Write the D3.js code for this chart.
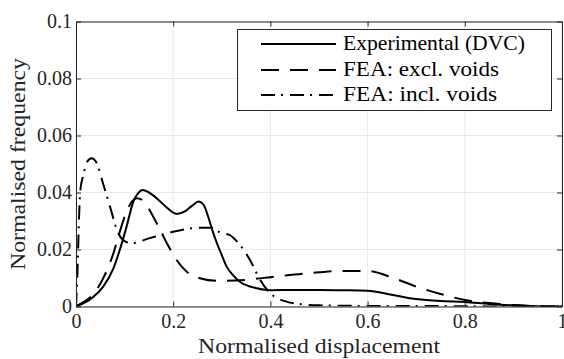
<!DOCTYPE html>
<html><head><meta charset="utf-8">
<script src="https://cdn.jsdelivr.net/npm/d3@7/dist/d3.min.js"></script>
<style>html,body{margin:0;padding:0;background:#fff;} svg text{font-family:"Liberation Serif","DejaVu Serif","Noto Serif",serif;}</style>
</head><body>
<svg id="c" width="564" height="359"></svg>
<script>
const xTicks = [0, 0.2, 0.4, 0.6, 0.8, 1];
const xTickLabels = ["0", "0.2", "0.4", "0.6", "0.8", "1"];
const yTicks = [0, 0.02, 0.04, 0.06, 0.08, 0.1];
const yTickLabels = ["0", "0.02", "0.04", "0.06", "0.08", "0.1"];
const seriesNames = ["Experimental (DVC)", "FEA: excl. voids", "FEA: incl. voids"];

const expX = [0, 0.01, 0.02, 0.036, 0.056, 0.077, 0.09, 0.104, 0.118, 0.128, 0.137, 0.15, 0.166, 0.185, 0.207, 0.225, 0.24, 0.252, 0.262, 0.272, 0.282, 0.29, 0.3, 0.31, 0.323, 0.337, 0.355, 0.372, 0.4, 0.45, 0.5, 0.55, 0.6, 0.65, 0.7, 0.75, 0.8, 0.85, 0.9, 0.95, 1];
const expY = [0, 0.0008, 0.0015, 0.0034, 0.007, 0.0134, 0.0198, 0.028, 0.0368, 0.0398, 0.0409, 0.040, 0.038, 0.035, 0.0325, 0.0335, 0.0355, 0.0368, 0.0358, 0.0315, 0.026, 0.0222, 0.018, 0.014, 0.011, 0.0087, 0.0072, 0.0064, 0.0057, 0.0058, 0.0058, 0.0057, 0.0055, 0.0041, 0.0026, 0.0019, 0.0016, 0.0009, 0.0004, 0.0001, 0];

const exclX = [0, 0.01, 0.02, 0.036, 0.056, 0.077, 0.09, 0.104, 0.115, 0.125, 0.135, 0.145, 0.166, 0.187, 0.207, 0.228, 0.255, 0.29, 0.33, 0.37, 0.4, 0.45, 0.5, 0.55, 0.6, 0.65, 0.7, 0.75, 0.8, 0.85, 0.9, 0.95, 1];
const exclY = [0, 0.001, 0.002, 0.0044, 0.0099, 0.0187, 0.0262, 0.0333, 0.0368, 0.038, 0.0375, 0.0356, 0.0292, 0.0222, 0.0163, 0.0122, 0.0099, 0.009, 0.0091, 0.0097, 0.0103, 0.0112, 0.012, 0.0125, 0.0125, 0.0102, 0.007, 0.0044, 0.0023, 0.0012, 0.0005, 0.0001, 0];

const inclX = [0, 0.003, 0.006, 0.009, 0.015, 0.022, 0.032, 0.042, 0.056, 0.07, 0.087, 0.097, 0.115, 0.15, 0.2, 0.255, 0.28, 0.296, 0.317, 0.34, 0.358, 0.379, 0.4, 0.433, 0.47, 0.5, 0.6, 0.7, 0.8, 0.9, 1];
const inclY = [0, 0.012, 0.03, 0.041, 0.046, 0.0505, 0.052, 0.0505, 0.043, 0.035, 0.0257, 0.0233, 0.0222, 0.0239, 0.0262, 0.0276, 0.0276, 0.026, 0.025, 0.021, 0.0163, 0.0093, 0.0046, 0.0017, 0.0007, 0.0004, 0.0002, 0.0002, 0.0001, 0, 0];

const svg = d3.select("#c");
const L = 76, R = 562, T = 21.5, B = 306.5;
const x = d3.scaleLinear().domain([0, 1]).range([L, R]);
const y = d3.scaleLinear().domain([0, 0.1]).range([B, T]);
const axCol = "#262626";
const serif = "Liberation Serif, DejaVu Serif, Noto Serif, serif";

svg.append("defs").append("clipPath").attr("id", "clip")
  .append("rect").attr("x", L).attr("y", T).attr("width", R - L).attr("height", B - T);

// grid
const grid = svg.append("g");
xTicks.forEach(t => grid.append("line").attr("x1", x(t)).attr("x2", x(t)).attr("y1", T).attr("y2", B)
  .attr("stroke", "#e8e8e8").attr("stroke-width", 1));
yTicks.forEach(t => grid.append("line").attr("x1", L).attr("x2", R).attr("y1", y(t)).attr("y2", y(t))
  .attr("stroke", "#e8e8e8").attr("stroke-width", 1));

// series
const styles = [null, "18,11", "14,6,2,7"];
const data = [[expX, expY], [exclX, exclY], [inclX, inclY]];
const line = d3.line().x(d => x(d[0])).y(d => y(d[1])).curve(d3.curveMonotoneX);
const gl = svg.append("g").attr("clip-path", "url(#clip)");
data.forEach((s, i) => {
  const pts = s[0].map((v, k) => [v, s[1][k]]);
  gl.append("path").datum(pts).attr("d", line).attr("fill", "none")
    .attr("stroke", "#000").attr("stroke-width", 2)
    .attr("stroke-dasharray", styles[i]);
});

// axes (box with inward ticks)
const gB = svg.append("g").attr("transform", `translate(0,${B})`)
  .call(d3.axisBottom(x).tickValues(xTicks).tickFormat((d, i) => xTickLabels[i]).tickSizeInner(-5).tickSizeOuter(0).tickPadding(9));
const gTop = svg.append("g").attr("transform", `translate(0,${T})`)
  .call(d3.axisTop(x).tickValues(xTicks).tickFormat("").tickSizeInner(-5).tickSizeOuter(0));
const gLf = svg.append("g").attr("transform", `translate(${L},0)`)
  .call(d3.axisLeft(y).tickValues(yTicks).tickFormat((d, i) => yTickLabels[i]).tickSizeInner(-5).tickSizeOuter(0).tickPadding(4));
const gRt = svg.append("g").attr("transform", `translate(${R},0)`)
  .call(d3.axisRight(y).tickValues(yTicks).tickFormat("").tickSizeInner(-5).tickSizeOuter(0));
[gB, gTop, gLf, gRt].forEach(g => {
  g.attr("font-family", serif).attr("font-size", 20);
  g.selectAll("path.domain").attr("stroke", axCol).attr("stroke-width", 1);
  g.selectAll("line").attr("stroke", axCol);
  g.selectAll("text").attr("fill", axCol);
});
gB.selectAll("text").attr("dy", null).attr("y", 21);
gLf.selectAll("text").attr("dy", "0.32em");

// axis labels
svg.append("text").attr("x", (L + R) / 2).attr("y", 353).attr("text-anchor", "middle")
  .attr("fill", axCol).attr("font-family", serif).attr("font-size", 21)
  .attr("textLength", 242).attr("lengthAdjust", "spacingAndGlyphs")
  .text("Normalised displacement");
svg.append("text").attr("transform", `translate(25,${(T + B) / 2}) rotate(-90)`).attr("text-anchor", "middle")
  .attr("fill", axCol).attr("font-family", serif).attr("font-size", 21)
  .attr("textLength", 212).attr("lengthAdjust", "spacingAndGlyphs")
  .text("Normalised frequency");

// legend
const lg = svg.append("g");
lg.append("rect").attr("x", 237.5).attr("y", 29.5).attr("width", 314).attr("height", 81)
  .attr("fill", "#fff").attr("stroke", axCol).attr("stroke-width", 1);
const rowY = [44, 70, 95];
const lens = [182, 156, 154];
seriesNames.forEach((n, i) => {
  lg.append("line").attr("x1", 261).attr("x2", 336).attr("y1", rowY[i]).attr("y2", rowY[i])
    .attr("stroke", "#000").attr("stroke-width", 2).attr("stroke-dasharray", styles[i]);
  lg.append("text").attr("x", 343).attr("y", rowY[i] + 6).attr("fill", "#000")
    .attr("font-family", serif).attr("font-size", 21)
    .attr("textLength", lens[i]).attr("lengthAdjust", "spacingAndGlyphs")
    .text(n);
});
</script>
</body></html>
